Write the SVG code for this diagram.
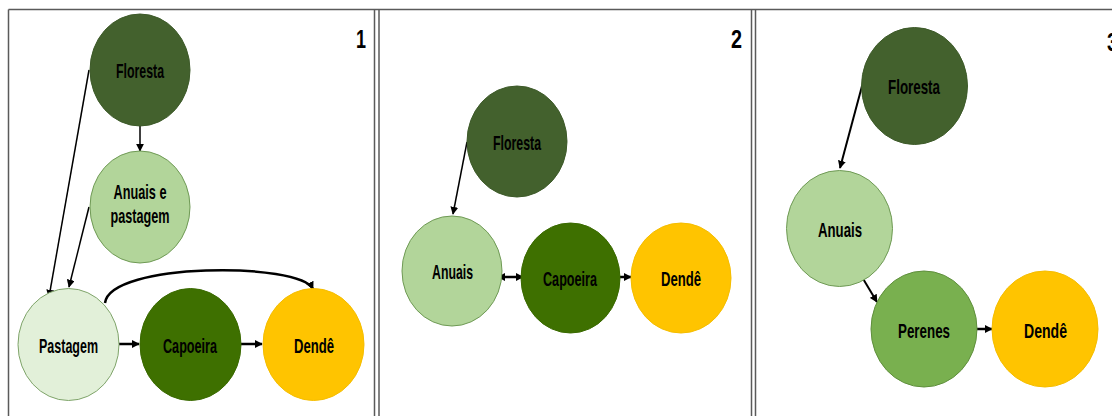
<svg xmlns="http://www.w3.org/2000/svg" width="1112" height="416" viewBox="0 0 1112 416">
<style>
  .frame{stroke:#5a5a5a;stroke-width:1.5;fill:none}
  .lbl{font-family:"Liberation Sans",Arial,sans-serif;font-weight:bold;font-size:21px;fill:#000;text-anchor:middle}
  .num{font-family:"Liberation Sans",Arial,sans-serif;font-weight:bold;font-size:26px;fill:#000}
  .flo{fill:#43612D;stroke:#3d5a29;stroke-width:1}
  .anu{fill:#B2D59A;stroke:#6f9a55;stroke-width:1}
  .pas{fill:#E2F0D9;stroke:#7fa46a;stroke-width:1}
  .cap{fill:#3E7000;stroke:#3a6a00;stroke-width:1}
  .den{fill:#FFC400;stroke:#f5bd00;stroke-width:1}
  .per{fill:#79B04F;stroke:#5f8f3c;stroke-width:1}
  .thin{stroke:#000;stroke-width:1.5;fill:none;marker-end:url(#ah)}
  .thick{stroke:#000;stroke-width:2.5;fill:none;marker-end:url(#ah)}
</style>
<defs>
  <marker id="ah" viewBox="0 0 10 10" refX="9" refY="5" markerWidth="8" markerHeight="8" markerUnits="userSpaceOnUse" orient="auto-start-reverse">
    <path d="M0,0 L10,5 L0,10 z" fill="#000"/>
  </marker>
</defs>
<rect width="1112" height="416" fill="#fff"/>
<g id="frame">
  <line class="frame" x1="8.5" y1="9.5" x2="1112" y2="9.5"/>
  <line class="frame" x1="8.5" y1="9.5" x2="8.5" y2="416"/>
  <line class="frame" x1="374.5" y1="9.5" x2="374.5" y2="416"/>
  <line class="frame" x1="379" y1="9.5" x2="379" y2="416"/>
  <line class="frame" x1="751.5" y1="9.5" x2="751.5" y2="416"/>
  <line class="frame" x1="755.5" y1="9.5" x2="755.5" y2="416"/>
  <text class="num" x="356" y="48" textLength="10" lengthAdjust="spacingAndGlyphs">1</text>
  <text class="num" x="731" y="48" textLength="11" lengthAdjust="spacingAndGlyphs">2</text>
  <text class="num" x="1107" y="51" textLength="11" lengthAdjust="spacingAndGlyphs">3</text>
</g>
<g id="connectors">
  <line class="thin" x1="140" y1="126" x2="140" y2="151"/>
  <line class="thin" x1="89" y1="70" x2="49" y2="297"/>
  <line class="thin" x1="89" y1="207" x2="69" y2="287"/>
  <line class="thick" x1="119" y1="344" x2="139" y2="344"/>
  <line class="thick" x1="241" y1="344" x2="262" y2="344"/>
  <path class="thick" d="M105,303 C110,262 300,262 313,289"/>
  <line class="thin" x1="467" y1="142" x2="453" y2="214"/>
  <line class="thick" x1="498" y1="277" x2="523" y2="277" marker-start="url(#ah)"/>
  <line class="thick" x1="620" y1="277" x2="631" y2="277"/>
  <line class="thin" x1="862" y1="86" x2="840" y2="168" style="stroke-width:2"/>
  <line class="thin" x1="862" y1="277" x2="877" y2="302" style="stroke-width:2"/>
  <line class="thick" x1="977" y1="329" x2="992" y2="329"/>
</g>
<g id="p1-floresta"><ellipse class="flo" cx="140" cy="70" rx="50" ry="56"/><text class="lbl" x="140" y="78" textLength="48" lengthAdjust="spacingAndGlyphs">Floresta</text></g>
<g id="p1-anuais"><ellipse class="anu" cx="140" cy="207" rx="50" ry="56"/><text class="lbl" x="140" y="199" textLength="53" lengthAdjust="spacingAndGlyphs">Anuais e</text><text class="lbl" x="140" y="223" textLength="59" lengthAdjust="spacingAndGlyphs">pastagem</text></g>
<g id="p1-pastagem"><ellipse class="pas" cx="68.5" cy="344.5" rx="50.5" ry="56"/><text class="lbl" x="68.5" y="353" textLength="59" lengthAdjust="spacingAndGlyphs">Pastagem</text></g>
<g id="p1-capoeira"><ellipse class="cap" cx="190.5" cy="344.5" rx="50.5" ry="56"/><text class="lbl" x="190" y="353" textLength="54" lengthAdjust="spacingAndGlyphs">Capoeira</text></g>
<g id="p1-dende"><ellipse class="den" cx="313.5" cy="344.5" rx="50.5" ry="56"/><text class="lbl" x="314" y="353" textLength="40" lengthAdjust="spacingAndGlyphs">Dendê</text></g>
<g id="p2-floresta"><ellipse class="flo" cx="517" cy="141.5" rx="50" ry="55.5"/><text class="lbl" x="517" y="150" textLength="48" lengthAdjust="spacingAndGlyphs">Floresta</text></g>
<g id="p2-anuais"><ellipse class="anu" cx="452" cy="271" rx="50" ry="55"/><text class="lbl" x="452.5" y="279" textLength="41" lengthAdjust="spacingAndGlyphs">Anuais</text></g>
<g id="p2-capoeira"><ellipse class="cap" cx="570.5" cy="278" rx="49.5" ry="55"/><text class="lbl" x="570" y="286" textLength="54" lengthAdjust="spacingAndGlyphs">Capoeira</text></g>
<g id="p2-dende"><ellipse class="den" cx="681" cy="278" rx="50" ry="55"/><text class="lbl" x="681" y="286" textLength="40" lengthAdjust="spacingAndGlyphs">Dendê</text></g>
<g id="p3-floresta"><ellipse class="flo" cx="914.5" cy="86" rx="53" ry="58.5"/><text class="lbl" x="914" y="94" textLength="52" lengthAdjust="spacingAndGlyphs">Floresta</text></g>
<g id="p3-anuais"><ellipse class="anu" cx="839.5" cy="228.5" rx="53" ry="58"/><text class="lbl" x="840" y="237" textLength="44" lengthAdjust="spacingAndGlyphs">Anuais</text></g>
<g id="p3-perenes"><ellipse class="per" cx="924" cy="329" rx="53" ry="58"/><text class="lbl" x="924" y="338" textLength="52" lengthAdjust="spacingAndGlyphs">Perenes</text></g>
<g id="p3-dende"><ellipse class="den" cx="1045" cy="329" rx="53" ry="58"/><text class="lbl" x="1045.5" y="338" textLength="43" lengthAdjust="spacingAndGlyphs">Dendê</text></g>
</svg>
